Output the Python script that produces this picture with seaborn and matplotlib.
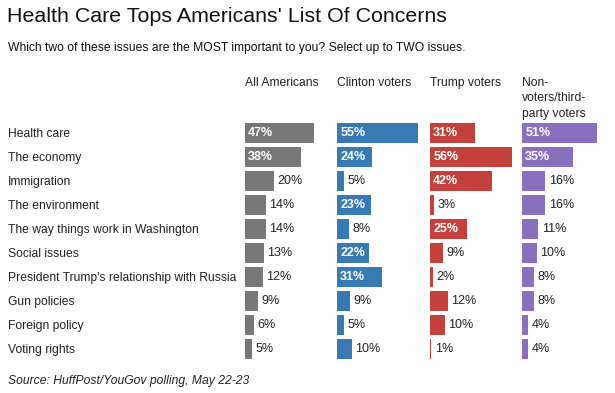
import matplotlib
matplotlib.use("Agg")
import matplotlib.pyplot as plt
import seaborn as sns
import pandas as pd

issues = ["Health care", "The economy", "Immigration", "The environment",
          "The way things work in Washington", "Social issues",
          "President Trump's relationship with Russia", "Gun policies",
          "Foreign policy", "Voting rights"]
all_americans = [47, 38, 20, 14, 14, 13, 12, 9, 6, 5]
clinton_voters = [55, 24, 5, 23, 8, 22, 31, 9, 5, 10]
trump_voters = [31, 56, 42, 3, 25, 9, 2, 12, 10, 1]
non_voters = [51, 35, 16, 16, 11, 10, 8, 8, 4, 4]

groups = ["All Americans", "Clinton voters", "Trump voters", "Non-\nvoters/third-\nparty voters"]
series = [all_americans, clinton_voters, trump_voters, non_voters]
colors = ["#777777", "#3679b3", "#c4413b", "#8b6fbf"]

title = "Health Care Tops Americans' List Of Concerns"
subtitle = "Which two of these issues are the MOST important to you? Select up to TWO issues."
source = "Source: HuffPost/YouGov polling, May 22-23"

sns.set_theme(style="white")
plt.rcParams["font.family"] = ["Liberation Sans", "DejaVu Sans"]

W, H = 615, 393
fig = plt.figure(figsize=(W / 100, H / 100), dpi=100)

def fx(px):
    return px / W

def fy(py):
    return 1 - py / H

lefts = [245, 337, 430, 522]
ax_w = 88
top_px, bot_px = 121, 361
text_col = "#222222"
fs = 8.7

for i, (vals, col, left) in enumerate(zip(series, colors, lefts)):
    ax = fig.add_axes([fx(left), fy(bot_px), fx(ax_w), (bot_px - top_px) / H])
    df = pd.DataFrame({"issue": issues, "value": vals})
    sns.barplot(data=df, y="issue", x="value", ax=ax, color=col, width=0.82,
                orient="h", saturation=1, linewidth=0, edgecolor="none")
    ax.set_xlim(0, 60)
    ax.set_ylim(len(issues) - 0.5, -0.5)
    ax.set_xlabel("")
    ax.set_ylabel("")
    ax.set_xticks([])
    for s in ax.spines.values():
        s.set_visible(False)
    if i == 0:
        ax.tick_params(axis="y", length=0, pad=(left - 8) * 0.72)
        for lab in ax.get_yticklabels():
            lab.set_horizontalalignment("left")
            lab.set_fontsize(fs)
            lab.set_color(text_col)
    else:
        ax.set_yticks([])
    for j, v in enumerate(vals):
        if v >= 21:
            ax.annotate(f"{v}%", xy=(0, j), xytext=(2.3, 0), textcoords="offset points",
                        ha="left", va="center", color="white", fontsize=fs + 0.3,
                        fontweight="bold")
        else:
            ax.annotate(f"{v}%", xy=(v, j), xytext=(2.5, 0), textcoords="offset points",
                        ha="left", va="center", color=text_col, fontsize=fs + 0.3)
    fig.text(fx(left), fy(77), groups[i], ha="left", va="top", fontsize=fs,
             color=text_col, linespacing=1.38)

fig.text(fx(7), fy(17), title, ha="left", va="center", fontsize=15.4, color="#111111")
fig.text(fx(8), fy(47.5), subtitle, ha="left", va="center", fontsize=fs, color="#111111")
fig.text(fx(8), fy(381), source, ha="left", va="center", fontsize=fs,
         style="italic", color=text_col)

fig.savefig("out.png", dpi=100, facecolor="white")
